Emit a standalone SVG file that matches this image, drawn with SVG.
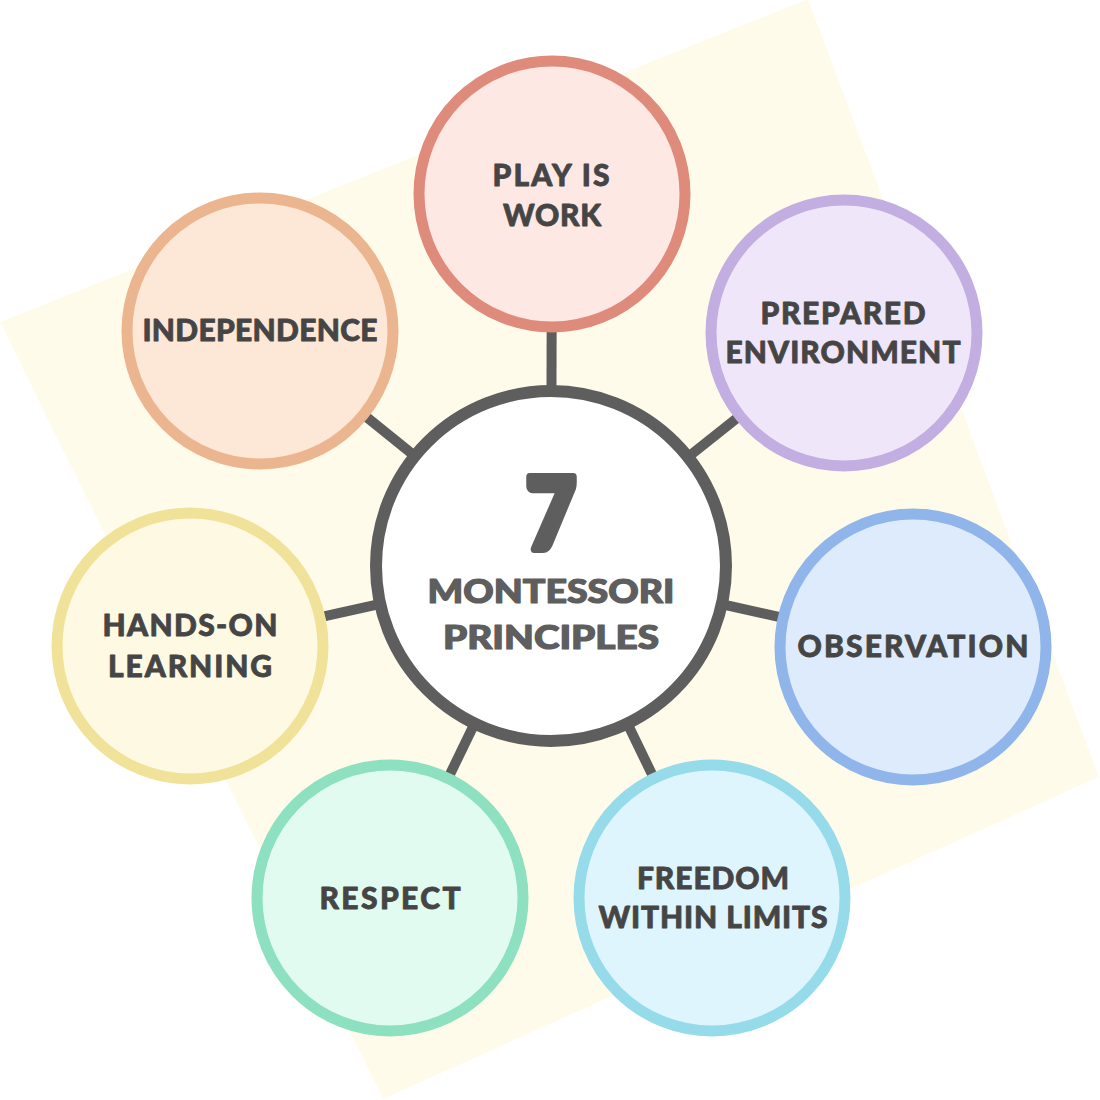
<svg xmlns="http://www.w3.org/2000/svg" width="1100" height="1100" viewBox="0 0 1100 1100">
  <style>
    .bg { fill: #fffbea; }
    .conn { stroke: #5e5e5e; stroke-width: 10; stroke-linecap: butt; }
    .node { stroke-width: 11; }
    .hub { fill: #ffffff; stroke: #5e5e5e; stroke-width: 12; }
    .lbl { font-family: Lato, "Open Sans", "DejaVu Sans", sans-serif; font-weight: 900; font-size: 30px; fill: #454545; stroke: #454545; stroke-width: 0.8; stroke-linejoin: round; text-anchor: middle; }
    .hubtxt { font-family: Lato, "Open Sans", "DejaVu Sans", sans-serif; font-weight: 900; font-size: 32px; fill: #5e5e5e; stroke: #5e5e5e; stroke-width: 1.2; stroke-linejoin: round; text-anchor: middle; }
    .seven { font-family: Lato, "Open Sans", "DejaVu Sans", sans-serif; font-weight: 900; font-size: 100px; fill: #5e5e5e; stroke: #5e5e5e; stroke-width: 8; stroke-linejoin: round; text-anchor: middle; }
  </style>

  <polygon class="bg" points="0,322 808,-1 1099,777 383,1099"/>

  <g id="connectors">
    <line class="conn" x1="551" y1="566" x2="552" y2="194"/>
    <line class="conn" x1="551" y1="566" x2="844" y2="333"/>
    <line class="conn" x1="551" y1="566" x2="913" y2="647"/>
    <line class="conn" x1="551" y1="566" x2="712" y2="898"/>
    <line class="conn" x1="551" y1="566" x2="390" y2="898"/>
    <line class="conn" x1="551" y1="566" x2="190" y2="646"/>
    <line class="conn" x1="551" y1="566" x2="260" y2="331"/>
  </g>

  <g id="hub">
    <circle class="hub" cx="551" cy="566" r="175"/>
    <text class="seven" x="551" y="549" textLength="50" lengthAdjust="spacingAndGlyphs">7</text>
    <text class="hubtxt" x="551" y="603" textLength="247" lengthAdjust="spacingAndGlyphs">MONTESSORI</text>
    <text class="hubtxt" x="551" y="649" textLength="216" lengthAdjust="spacingAndGlyphs">PRINCIPLES</text>
  </g>

  <g id="node-play">
    <circle class="node" cx="552" cy="194" r="133" fill="#fde8e3" stroke="#df8b7b"/>
    <text class="lbl" x="551" y="186" textLength="117">PLAY IS</text>
    <text class="lbl" x="552" y="226" textLength="98">WORK</text>
  </g>

  <g id="node-prepared">
    <circle class="node" cx="844" cy="333" r="133" fill="#efe6f9" stroke="#c2aee0"/>
    <text class="lbl" x="843" y="324" textLength="165">PREPARED</text>
    <text class="lbl" x="843" y="363" textLength="235">ENVIRONMENT</text>
  </g>

  <g id="node-observation">
    <circle class="node" cx="913" cy="647" r="133" fill="#deebfc" stroke="#8fb5ea"/>
    <text class="lbl" x="913" y="657" textLength="231">OBSERVATION</text>
  </g>

  <g id="node-freedom">
    <circle class="node" cx="712" cy="898" r="133" fill="#dff5fd" stroke="#96dbea"/>
    <text class="lbl" x="713" y="889" textLength="152">FREEDOM</text>
    <text class="lbl" x="713" y="928" textLength="229">WITHIN LIMITS</text>
  </g>

  <g id="node-respect">
    <circle class="node" cx="390" cy="898" r="133" fill="#e1fbf0" stroke="#8de0c0"/>
    <text class="lbl" x="390" y="909" textLength="141">RESPECT</text>
  </g>

  <g id="node-hands-on">
    <circle class="node" cx="190" cy="646" r="133" fill="#fef9e2" stroke="#f0e399"/>
    <text class="lbl" x="190" y="636" textLength="175">HANDS-ON</text>
    <text class="lbl" x="190" y="677" textLength="164">LEARNING</text>
  </g>

  <g id="node-independence">
    <circle class="node" cx="260" cy="331" r="133" fill="#fde7d6" stroke="#ebb58f"/>
    <text class="lbl" x="260" y="341" textLength="235">INDEPENDENCE</text>
  </g>
</svg>
